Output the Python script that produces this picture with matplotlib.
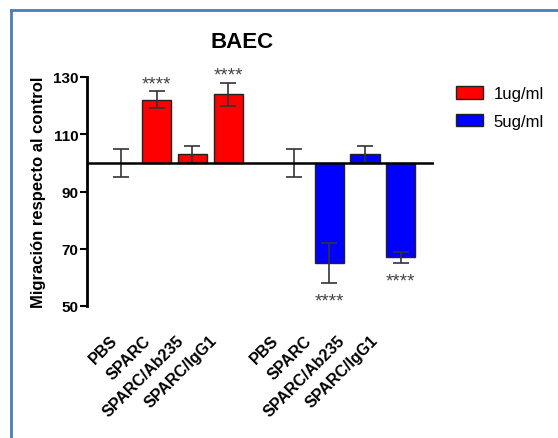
import matplotlib.pyplot as plt
from matplotlib.lines import Line2D
from matplotlib.patches import Patch
from matplotlib.transforms import ScaledTranslation
import numpy as np

plt.rcParams['font.family'] = ['Liberation Sans', 'DejaVu Sans']

conditions = ["PBS", "SPARC", "SPARC/Ab235", "SPARC/IgG1"]
doses = ["1ug/ml", "5ug/ml"]
means_1ug = [100, 122, 103, 124]
sem_1ug = [5, 3, 3, 4]
means_5ug = [100, 65, 103, 67]
sem_5ug = [5, 7, 3, 2]
signif_1ug = ["", "****", "", "****"]
signif_5ug = ["", "****", "", "****"]
baseline = 100
yticks = [50, 70, 90, 110, 130]

colors = ["#ff0000", "#0000ff"]
group_gap = 4.83
label_squeeze = 0.93   # tick labels sit a bit tighter than the bars (Prism look)

fig = plt.figure(figsize=(5.58, 4.39), dpi=100)
ax = fig.add_axes([87 / 558, 1 - 307 / 439, (434 - 87) / 558, (307 - 78) / 439])

idx = np.arange(len(conditions))
groups = [(means_1ug, sem_1ug, signif_1ug), (means_5ug, sem_5ug, signif_5ug)]
all_x = []
all_labels = []
for g, (means, sems, sig) in enumerate(groups):
    x = idx + g * group_gap
    heights = np.array(means) - baseline
    for xi, h, m, s, st in zip(x, heights, means, sems, sig):
        if abs(h) > 0.5:
            ax.bar(xi, h, bottom=baseline, width=0.82, color=colors[g],
                   edgecolor="#222222", linewidth=1.0, zorder=2)
        ax.errorbar(xi, m, yerr=s, color="#333333", capsize=5.5, elinewidth=1.2,
                    capthick=1.2, zorder=3)
        if st:
            if h > 0:
                ax.annotate(st, (xi, m + s), xytext=(0, 2), textcoords="offset points",
                            ha="center", va="baseline", fontsize=13.5,
                            color="#444444", annotation_clip=False)
            else:
                ax.annotate(st, (xi, m - s), xytext=(0, -16.3), textcoords="offset points",
                            ha="center", va="baseline", fontsize=13.5,
                            color="#444444", annotation_clip=False)
    all_x.extend(x)
    all_labels.extend(conditions)

ax.set_xlim(-0.95, 3 + group_gap + 0.93)
ax.set_ylim(50, 130)
ax.axhline(baseline, color="black", linewidth=1.8, zorder=4)

ax.set_yticks(yticks)
ax.set_yticklabels([str(t) for t in yticks], fontsize=11, fontweight="bold")
ax.tick_params(axis="y", length=5, width=1.5, pad=1)
ax.set_xticks(np.array(all_x) * label_squeeze)
ax.set_xticklabels(all_labels, rotation=45, ha="right", rotation_mode="anchor",
                   fontsize=11.5, fontweight="bold")
ax.tick_params(axis="x", length=0, pad=19)
shift = ScaledTranslation(-11 / 100, 0, fig.dpi_scale_trans)
for lab in ax.get_xticklabels():
    lab.set_transform(lab.get_transform() + shift)

for side in ["top", "right", "bottom"]:
    ax.spines[side].set_visible(False)
ax.spines["left"].set_linewidth(2)

ax.set_ylabel("Migración respecto al control", fontsize=12, fontweight="bold",
              labelpad=5)

fig.text(242 / 558, 1 - 42 / 439, "BAEC", ha="center", va="center",
         fontsize=16, fontweight="bold")

handles = [Patch(facecolor=c, edgecolor="#222222", linewidth=1.0) for c in colors]
fig.legend(handles, doses, loc="upper left", bbox_to_anchor=(456 / 558, 1 - 87 / 439),
           frameon=False, fontsize=12, handlelength=1.6, handleheight=0.8,
           handletextpad=0.65, labelspacing=0.75, borderaxespad=0, borderpad=0)

# blue frame around the figure (only top and left visible in the crop)
fig.add_artist(Line2D([11 / 558, 11 / 558], [0, 1 - 11 / 439], color="#4a7ebb",
                      linewidth=2, transform=fig.transFigure))
fig.add_artist(Line2D([11 / 558, 1], [1 - 11 / 439, 1 - 11 / 439], color="#4a7ebb",
                      linewidth=2, transform=fig.transFigure))

fig.savefig("out.png", dpi=100)
